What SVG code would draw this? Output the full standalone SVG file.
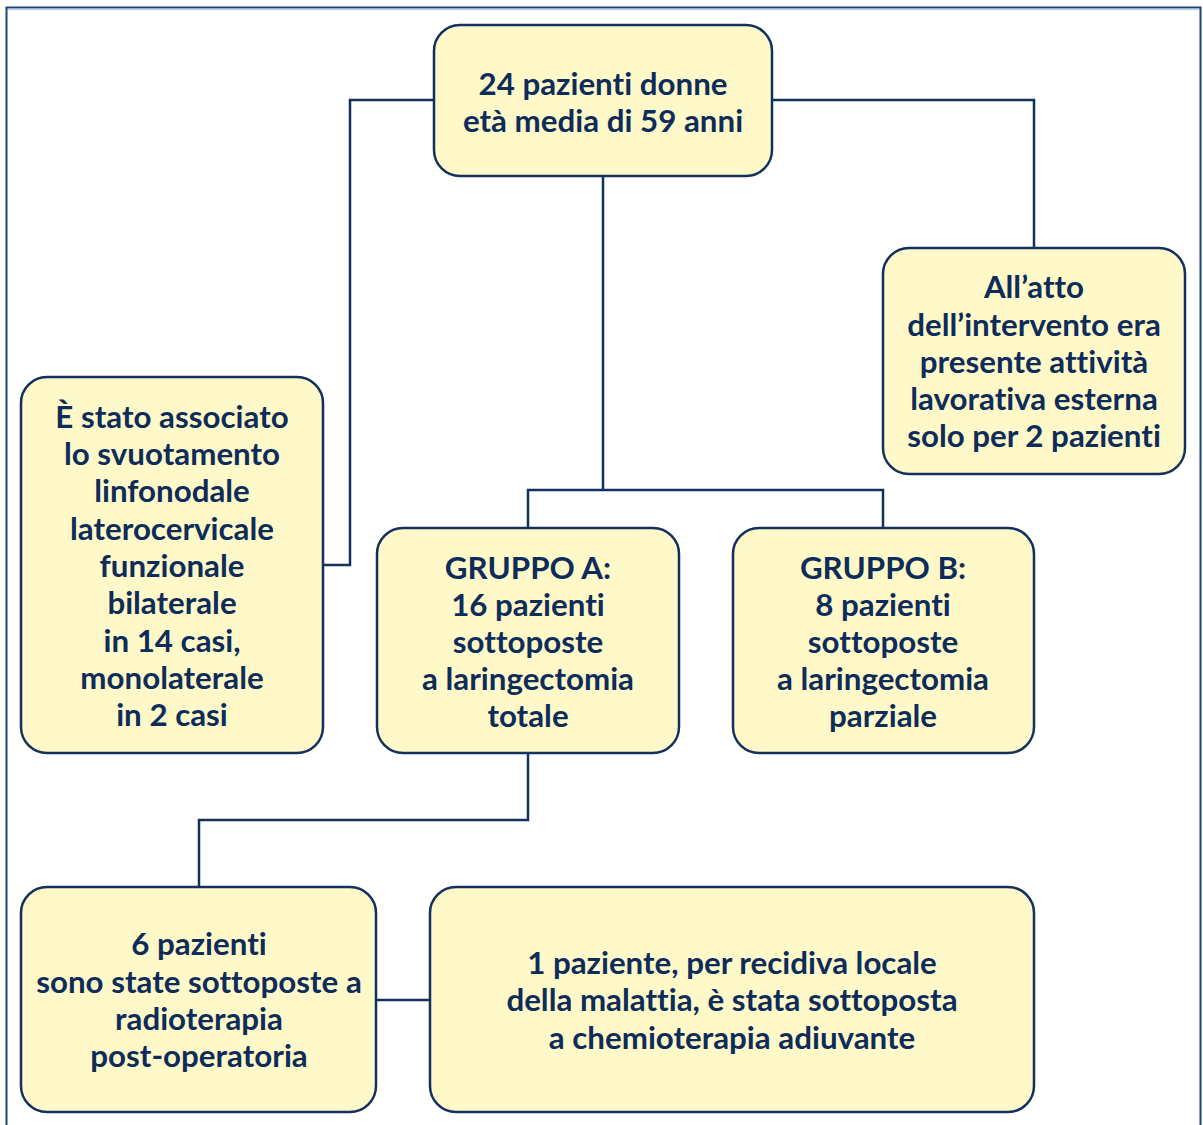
<svg xmlns="http://www.w3.org/2000/svg" width="1203" height="1125" viewBox="0 0 1203 1125">
<style>
.box{fill:#FFF9C9;stroke:#13305E;stroke-width:2.5}
.t{font-family:Lato,"Open Sans","DejaVu Sans",sans-serif;font-weight:bold;font-size:31.3px;fill:#0E2C5A;text-anchor:middle;font-variant-ligatures:none;font-feature-settings:"liga" 0}
.c{fill:none;stroke:#13305E;stroke-width:2.5}
</style>
<rect width="1203" height="1125" fill="#ffffff"/>
<path d="M6.5 1125 V7.5 H1200.5 V1125" fill="none" stroke="#1B4577" stroke-width="2"/>
<line x1="8" y1="9.5" x2="1199" y2="9.5" stroke="#C8D2DE" stroke-width="1.5"/>
<g id="connectors">
<path class="c" d="M434 100 H350 V565 H323"/>
<path class="c" d="M772 100 H1034 V248"/>
<path class="c" d="M603 176 V490"/>
<path class="c" d="M528 528 V490 H883 V528"/>
<path class="c" d="M528 753 V820 H199 V887"/>
<path class="c" d="M376 1000 H430"/>
</g>
<g id="node-top">
<rect class="box" x="434" y="25" width="338" height="151" rx="26"/>
<text class="t" x="603" y="95">24 pazienti donne</text>
<text class="t" x="603" y="132">età media di 59 anni</text>
</g>
<g id="node-right">
<rect class="box" x="883" y="248" width="302" height="226" rx="26"/>
<text class="t" x="1034" y="298">All’atto</text>
<text class="t" x="1034" y="336">dell’intervento era</text>
<text class="t" x="1034" y="373">presente attività</text>
<text class="t" x="1034" y="410">lavorativa esterna</text>
<text class="t" x="1034" y="447">solo per 2 pazienti</text>
</g>
<g id="node-left">
<rect class="box" x="21" y="377" width="302" height="376" rx="26"/>
<text class="t" x="172" y="428">È stato associato</text>
<text class="t" x="172" y="465">lo svuotamento</text>
<text class="t" x="172" y="502">linfonodale</text>
<text class="t" x="172" y="540">laterocervicale</text>
<text class="t" x="172" y="577">funzionale</text>
<text class="t" x="172" y="614">bilaterale</text>
<text class="t" x="172" y="652">in 14 casi,</text>
<text class="t" x="172" y="689">monolaterale</text>
<text class="t" x="172" y="726">in 2 casi</text>
</g>
<g id="node-gruppo-a">
<rect class="box" x="377" y="528" width="302" height="225" rx="26"/>
<text class="t" x="528" y="579">GRUPPO A:</text>
<text class="t" x="528" y="616">16 pazienti</text>
<text class="t" x="528" y="653">sottoposte</text>
<text class="t" x="528" y="690">a laringectomia</text>
<text class="t" x="528" y="727">totale</text>
</g>
<g id="node-gruppo-b">
<rect class="box" x="733" y="528" width="301" height="225" rx="26"/>
<text class="t" x="883" y="579">GRUPPO B:</text>
<text class="t" x="883" y="616">8 pazienti</text>
<text class="t" x="883" y="653">sottoposte</text>
<text class="t" x="883" y="690">a laringectomia</text>
<text class="t" x="883" y="727">parziale</text>
</g>
<g id="node-radio">
<rect class="box" x="21" y="887" width="355" height="225" rx="26"/>
<text class="t" x="199" y="955">6 pazienti</text>
<text class="t" x="199" y="993">sono state sottoposte a</text>
<text class="t" x="199" y="1030">radioterapia</text>
<text class="t" x="199" y="1067">post-operatoria</text>
</g>
<g id="node-chemio">
<rect class="box" x="430" y="887" width="604" height="225" rx="26"/>
<text class="t" x="732" y="974">1 paziente, per recidiva locale</text>
<text class="t" x="732" y="1011">della malattia, è stata sottoposta</text>
<text class="t" x="732" y="1049">a chemioterapia adiuvante</text>
</g>
</svg>
